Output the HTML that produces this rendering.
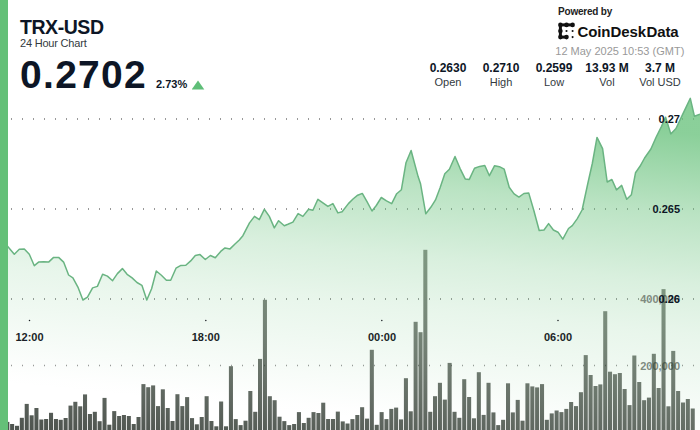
<!DOCTYPE html>
<html><head><meta charset="utf-8">
<style>
html,body{margin:0;padding:0;width:700px;height:430px;overflow:hidden;background:#fff;}
body{position:relative;font-family:"Liberation Sans",sans-serif;color:#0d1626;}
.abs{position:absolute;white-space:nowrap;line-height:1;}
#bar{position:absolute;left:0;top:0;width:7.5px;height:430px;background:#64c078;z-index:5;}
svg{position:absolute;left:0;top:0;}
</style></head><body>
<svg width="700" height="430" viewBox="0 0 700 430">
<defs>
<linearGradient id="fg" gradientUnits="userSpaceOnUse" x1="350" y1="100" x2="314.4" y2="456.4">
<stop offset="0" stop-color="#64c078" stop-opacity="0.75"/>
<stop offset="0.222" stop-color="#64c078" stop-opacity="0.44"/>
<stop offset="0.417" stop-color="#64c078" stop-opacity="0.245"/>
<stop offset="0.556" stop-color="#64c078" stop-opacity="0.15"/>
<stop offset="0.667" stop-color="#64c078" stop-opacity="0.10"/>
<stop offset="0.75" stop-color="#64c078" stop-opacity="0.06"/>
<stop offset="0.861" stop-color="#64c078" stop-opacity="0.005"/>
<stop offset="0.889" stop-color="#64c078" stop-opacity="0"/>
</linearGradient>
<linearGradient id="bg" gradientUnits="userSpaceOnUse" x1="350" y1="100" x2="314.4" y2="456.4">
<stop offset="0" stop-color="rgb(40,75,42)" stop-opacity="0.29"/>
<stop offset="0.43" stop-color="rgb(40,67,41)" stop-opacity="0.52"/>
<stop offset="0.694" stop-color="rgb(40,55,41)" stop-opacity="0.64"/>
<stop offset="0.892" stop-color="rgb(40,50,41)" stop-opacity="0.755"/>
<stop offset="1" stop-color="rgb(40,47,41)" stop-opacity="0.82"/>
</linearGradient>
</defs>
<line x1="0" y1="119" x2="700" y2="119" stroke="#999" stroke-width="2" stroke-dasharray="1 10"/><line x1="0" y1="209" x2="700" y2="209" stroke="#999" stroke-width="2" stroke-dasharray="1 10"/><line x1="0" y1="299" x2="700" y2="299" stroke="#999" stroke-width="2" stroke-dasharray="1 10"/><line x1="0" y1="365.5" x2="700" y2="365.5" stroke="#999" stroke-width="1.3" stroke-dasharray="1 10"/>
<path d="M0,244 L7.1,245.7 L14.3,254.3 L19.3,249.3 L24.3,248.9 L29.3,254.3 L34.3,265.7 L38.6,262.1 L43.6,261.7 L48.6,262.1 L53.6,257.4 L58.6,257.4 L63.6,262.1 L68.6,275 L72.9,277.9 L77.9,287.1 L82.9,300 L87.5,297.1 L92.6,287.9 L97.4,286.4 L102.6,274.3 L107.4,276.1 L112.6,280.7 L117.4,273.6 L122.4,268.6 L127.1,274.3 L132.1,277.9 L137,282.5 L141.9,285.3 L146.8,300 L151.6,288.8 L156.3,271 L161.4,275.3 L166.4,280.2 L170.7,280.2 L176,268.2 L180.9,265.4 L185.8,265.2 L190.7,260.9 L195.3,255.6 L200,254.6 L205.3,259.5 L210.4,255.5 L215.3,257.7 L220.7,251.4 L225,247.9 L230,248.9 L235,244 L239.3,240 L242.9,235.7 L249.5,222.9 L254.5,216.4 L259.3,219.6 L264.3,209.3 L269.3,216.4 L274.3,227.9 L278.6,220.7 L284.3,225.7 L287.9,224.3 L292.9,222.1 L298.1,213.6 L302.9,216.4 L308.6,209.3 L312.9,210.3 L317.9,199.3 L322.9,202.9 L327.9,206.4 L332.9,203.6 L337.9,212.9 L342.1,211.7 L348.4,203.6 L353,199 L357.7,195.2 L362.3,193.4 L367,201.7 L372,211 L376.3,205.5 L381.3,197.5 L386.5,200.8 L391.7,203.6 L396.7,193.7 L401.4,189.7 L406,162.7 L411.1,150.5 L418.1,176.6 L420.6,184.1 L425.8,213.8 L430.8,207.3 L435.5,199.9 L440.1,187.8 L444.8,173.8 L449.4,169.2 L455,156.5 L460,168.3 L465.2,178.9 L469.3,179.4 L474.5,168.3 L479.7,166.4 L484.8,165.5 L489.4,175.7 L494.6,165.7 L499.4,166.7 L504.2,169.2 L509.2,187.2 L514.1,193.9 L518.9,197.1 L523.9,193.5 L528.7,192.9 L533.9,210.7 L539.2,230.5 L544,230 L548.6,223.6 L553.4,230 L558,232.2 L562.8,239.2 L568.5,228.5 L572.3,225.6 L577.3,218.6 L582.1,210 L587.7,184 L592.3,163.5 L597,137.4 L602.6,148.6 L607.2,182 L611.9,179.5 L616.5,189.9 L621.7,185.4 L626.7,199.2 L631.4,194.7 L635.5,172.8 L640,166.3 L644.6,158 L650.9,149 L656.2,137 L661.4,126.6 L665.6,117.2 L670.8,133.9 L676,128.5 L682.3,115.1 L690.3,98.4 L694.4,116.2 L700,114.1 L700,430 L0,430 Z" fill="url(#fg)"/>
<g font-family="Liberation Sans" font-weight="bold" font-size="11" fill="#7f8b80" text-anchor="end">
<text x="680" y="303">400,000</text>
<text x="680" y="369.5">200,000</text>
</g>
<g fill="url(#bg)"><rect x="5.3" y="421.9" width="4.06" height="8.1"/><rect x="10.1" y="424" width="4.06" height="6"/><rect x="15" y="425.8" width="4.06" height="4.2"/><rect x="19.8" y="417.8" width="4.06" height="12.2"/><rect x="24.7" y="403.9" width="4.06" height="26.1"/><rect x="29.6" y="415.3" width="4.06" height="14.7"/><rect x="34.4" y="408" width="4.06" height="22"/><rect x="39.3" y="419.5" width="4.06" height="10.5"/><rect x="44.1" y="419" width="4.06" height="11"/><rect x="49" y="412.8" width="4.06" height="17.2"/><rect x="53.9" y="419" width="4.06" height="11"/><rect x="58.7" y="419.8" width="4.06" height="10.2"/><rect x="63.6" y="418" width="4.06" height="12"/><rect x="68.5" y="405.6" width="4.06" height="24.4"/><rect x="73.3" y="401.8" width="4.06" height="28.2"/><rect x="78.2" y="406.3" width="4.06" height="23.7"/><rect x="83" y="394.4" width="4.06" height="35.6"/><rect x="87.9" y="414" width="4.06" height="16"/><rect x="92.8" y="411.8" width="4.06" height="18.2"/><rect x="97.6" y="421.2" width="4.06" height="8.8"/><rect x="102.5" y="397.9" width="4.06" height="32.1"/><rect x="107.3" y="424.7" width="4.06" height="5.3"/><rect x="112.2" y="411.1" width="4.06" height="18.9"/><rect x="117.1" y="416" width="4.06" height="14"/><rect x="121.9" y="415" width="4.06" height="15"/><rect x="126.8" y="416" width="4.06" height="14"/><rect x="131.7" y="424" width="4.06" height="6"/><rect x="136.5" y="417" width="4.06" height="13"/><rect x="141.4" y="384.1" width="4.06" height="45.9"/><rect x="146.2" y="387.2" width="4.06" height="42.8"/><rect x="151.1" y="385.4" width="4.06" height="44.6"/><rect x="156" y="406.1" width="4.06" height="23.9"/><rect x="160.8" y="389.3" width="4.06" height="40.7"/><rect x="165.7" y="408" width="4.06" height="22"/><rect x="170.5" y="421" width="4.06" height="9"/><rect x="175.4" y="394.2" width="4.06" height="35.8"/><rect x="180.3" y="406.1" width="4.06" height="23.9"/><rect x="185.1" y="397.1" width="4.06" height="32.9"/><rect x="190" y="418.1" width="4.06" height="11.9"/><rect x="194.8" y="424.3" width="4.06" height="5.7"/><rect x="199.7" y="417" width="4.06" height="13"/><rect x="204.6" y="396.2" width="4.06" height="33.8"/><rect x="209.4" y="421" width="4.06" height="9"/><rect x="214.3" y="426.3" width="4.06" height="3.7"/><rect x="219.1" y="401.5" width="4.06" height="28.5"/><rect x="224" y="426.3" width="4.06" height="3.7"/><rect x="228.9" y="366.2" width="4.06" height="63.8"/><rect x="233.7" y="419.1" width="4.06" height="10.9"/><rect x="238.6" y="425.1" width="4.06" height="4.9"/><rect x="243.5" y="420.7" width="4.06" height="9.3"/><rect x="248.3" y="391" width="4.06" height="39"/><rect x="253.2" y="411.8" width="4.06" height="18.2"/><rect x="258" y="358.9" width="4.06" height="71.1"/><rect x="262.9" y="299.8" width="4.06" height="130.2"/><rect x="267.8" y="396.2" width="4.06" height="33.8"/><rect x="272.6" y="400.2" width="4.06" height="29.8"/><rect x="277.5" y="416.7" width="4.06" height="13.3"/><rect x="282.3" y="421.1" width="4.06" height="8.9"/><rect x="287.2" y="425.1" width="4.06" height="4.9"/><rect x="292.1" y="424" width="4.06" height="6"/><rect x="296.9" y="412.1" width="4.06" height="17.9"/><rect x="301.8" y="423" width="4.06" height="7"/><rect x="306.6" y="417.8" width="4.06" height="12.2"/><rect x="311.5" y="412.1" width="4.06" height="17.9"/><rect x="316.4" y="413" width="4.06" height="17"/><rect x="321.2" y="402.7" width="4.06" height="27.3"/><rect x="326.1" y="419" width="4.06" height="11"/><rect x="331" y="419" width="4.06" height="11"/><rect x="335.8" y="411.6" width="4.06" height="18.4"/><rect x="340.7" y="421.4" width="4.06" height="8.6"/><rect x="345.5" y="423.5" width="4.06" height="6.5"/><rect x="350.4" y="419.1" width="4.06" height="10.9"/><rect x="355.3" y="415" width="4.06" height="15"/><rect x="360.1" y="407.2" width="4.06" height="22.8"/><rect x="365" y="418.6" width="4.06" height="11.4"/><rect x="369.8" y="349.8" width="4.06" height="80.2"/><rect x="374.7" y="424.8" width="4.06" height="5.2"/><rect x="379.6" y="412.1" width="4.06" height="17.9"/><rect x="384.4" y="419.1" width="4.06" height="10.9"/><rect x="389.3" y="408.9" width="4.06" height="21.1"/><rect x="394.1" y="407.6" width="4.06" height="22.4"/><rect x="399" y="419.4" width="4.06" height="10.6"/><rect x="403.9" y="378.2" width="4.06" height="51.8"/><rect x="408.7" y="411.3" width="4.06" height="18.7"/><rect x="413.6" y="321.8" width="4.06" height="108.2"/><rect x="418.5" y="332.2" width="4.06" height="97.8"/><rect x="423.3" y="249.8" width="4.06" height="180.2"/><rect x="428.2" y="411.8" width="4.06" height="18.2"/><rect x="433" y="396.2" width="4.06" height="33.8"/><rect x="437.9" y="382.8" width="4.06" height="47.2"/><rect x="442.8" y="399.6" width="4.06" height="30.4"/><rect x="447.6" y="362.9" width="4.06" height="67.1"/><rect x="452.5" y="411.8" width="4.06" height="18.2"/><rect x="457.3" y="417.8" width="4.06" height="12.2"/><rect x="462.2" y="379.2" width="4.06" height="50.8"/><rect x="467.1" y="397" width="4.06" height="33"/><rect x="471.9" y="418.3" width="4.06" height="11.7"/><rect x="476.8" y="372.2" width="4.06" height="57.8"/><rect x="481.6" y="414.9" width="4.06" height="15.1"/><rect x="486.5" y="382.8" width="4.06" height="47.2"/><rect x="491.4" y="412.4" width="4.06" height="17.6"/><rect x="496.2" y="425.1" width="4.06" height="4.9"/><rect x="501.1" y="419.8" width="4.06" height="10.2"/><rect x="506" y="383.3" width="4.06" height="46.7"/><rect x="510.8" y="412.4" width="4.06" height="17.6"/><rect x="515.7" y="399.9" width="4.06" height="30.1"/><rect x="520.5" y="420.7" width="4.06" height="9.3"/><rect x="525.4" y="383.3" width="4.06" height="46.7"/><rect x="530.3" y="386.4" width="4.06" height="43.6"/><rect x="535.1" y="387.4" width="4.06" height="42.6"/><rect x="540" y="384.1" width="4.06" height="45.9"/><rect x="544.8" y="419.8" width="4.06" height="10.2"/><rect x="549.7" y="413.4" width="4.06" height="16.6"/><rect x="554.6" y="410.5" width="4.06" height="19.5"/><rect x="559.4" y="412.1" width="4.06" height="17.9"/><rect x="564.3" y="408.9" width="4.06" height="21.1"/><rect x="569.1" y="402" width="4.06" height="28"/><rect x="574" y="406.1" width="4.06" height="23.9"/><rect x="578.9" y="392.2" width="4.06" height="37.8"/><rect x="583.7" y="355.1" width="4.06" height="74.9"/><rect x="588.6" y="375" width="4.06" height="55"/><rect x="593.5" y="386" width="4.06" height="44"/><rect x="598.3" y="384.4" width="4.06" height="45.6"/><rect x="603.2" y="311.2" width="4.06" height="118.8"/><rect x="608" y="371.7" width="4.06" height="58.3"/><rect x="612.9" y="374.2" width="4.06" height="55.8"/><rect x="617.8" y="373" width="4.06" height="57"/><rect x="622.6" y="389" width="4.06" height="41"/><rect x="627.5" y="405.1" width="4.06" height="24.9"/><rect x="632.3" y="355.5" width="4.06" height="74.5"/><rect x="637.2" y="382" width="4.06" height="48"/><rect x="642.1" y="400.2" width="4.06" height="29.8"/><rect x="646.9" y="397.6" width="4.06" height="32.4"/><rect x="651.8" y="353.8" width="4.06" height="76.2"/><rect x="656.6" y="388" width="4.06" height="42"/><rect x="661.5" y="289.1" width="4.06" height="140.9"/><rect x="666.4" y="406.3" width="4.06" height="23.7"/><rect x="671.2" y="350.9" width="4.06" height="79.1"/><rect x="676.1" y="391" width="4.06" height="39"/><rect x="681" y="402.5" width="4.06" height="27.5"/><rect x="685.8" y="399" width="4.06" height="31"/><rect x="690.7" y="408.5" width="4.06" height="21.5"/></g>
<polyline points="0,244 7.1,245.7 14.3,254.3 19.3,249.3 24.3,248.9 29.3,254.3 34.3,265.7 38.6,262.1 43.6,261.7 48.6,262.1 53.6,257.4 58.6,257.4 63.6,262.1 68.6,275 72.9,277.9 77.9,287.1 82.9,300 87.5,297.1 92.6,287.9 97.4,286.4 102.6,274.3 107.4,276.1 112.6,280.7 117.4,273.6 122.4,268.6 127.1,274.3 132.1,277.9 137,282.5 141.9,285.3 146.8,300 151.6,288.8 156.3,271 161.4,275.3 166.4,280.2 170.7,280.2 176,268.2 180.9,265.4 185.8,265.2 190.7,260.9 195.3,255.6 200,254.6 205.3,259.5 210.4,255.5 215.3,257.7 220.7,251.4 225,247.9 230,248.9 235,244 239.3,240 242.9,235.7 249.5,222.9 254.5,216.4 259.3,219.6 264.3,209.3 269.3,216.4 274.3,227.9 278.6,220.7 284.3,225.7 287.9,224.3 292.9,222.1 298.1,213.6 302.9,216.4 308.6,209.3 312.9,210.3 317.9,199.3 322.9,202.9 327.9,206.4 332.9,203.6 337.9,212.9 342.1,211.7 348.4,203.6 353,199 357.7,195.2 362.3,193.4 367,201.7 372,211 376.3,205.5 381.3,197.5 386.5,200.8 391.7,203.6 396.7,193.7 401.4,189.7 406,162.7 411.1,150.5 418.1,176.6 420.6,184.1 425.8,213.8 430.8,207.3 435.5,199.9 440.1,187.8 444.8,173.8 449.4,169.2 455,156.5 460,168.3 465.2,178.9 469.3,179.4 474.5,168.3 479.7,166.4 484.8,165.5 489.4,175.7 494.6,165.7 499.4,166.7 504.2,169.2 509.2,187.2 514.1,193.9 518.9,197.1 523.9,193.5 528.7,192.9 533.9,210.7 539.2,230.5 544,230 548.6,223.6 553.4,230 558,232.2 562.8,239.2 568.5,228.5 572.3,225.6 577.3,218.6 582.1,210 587.7,184 592.3,163.5 597,137.4 602.6,148.6 607.2,182 611.9,179.5 616.5,189.9 621.7,185.4 626.7,199.2 631.4,194.7 635.5,172.8 640,166.3 644.6,158 650.9,149 656.2,137 661.4,126.6 665.6,117.2 670.8,133.9 676,128.5 682.3,115.1 690.3,98.4 694.4,116.2 700,114.1" fill="none" stroke="#6ab482" stroke-width="1.5" stroke-linejoin="round"/>
<g fill="#1a1f24">
<circle cx="29.5" cy="320.5" r="0.75"/>
<circle cx="205.8" cy="320.5" r="0.75"/>
<circle cx="381.8" cy="320.5" r="0.75"/>
<circle cx="558" cy="320.5" r="0.75"/>
</g>
<g font-family="Liberation Sans" font-weight="bold" font-size="11" fill="#1a1f26" text-anchor="middle">
<text x="29.5" y="341">12:00</text>
<text x="205.8" y="341">18:00</text>
<text x="382" y="341">00:00</text>
<text x="558" y="341">06:00</text>
</g>
<g font-family="Liberation Sans" font-weight="bold" font-size="11" fill="#0d1626" text-anchor="end">
<text x="680" y="122.5">0.27</text>
<text x="680" y="212.5">0.265</text>
<text x="680" y="302.5">0.26</text>
</g>
</svg>
<div id="bar"></div>
<div class="abs" style="left:20px;top:18px;font-size:19.5px;font-weight:bold;letter-spacing:-0.45px;">TRX-USD</div>
<div class="abs" style="left:20px;top:38px;font-size:11px;color:#333a40;letter-spacing:-0.2px;">24 Hour Chart</div>
<div class="abs" style="left:20px;top:55px;font-size:39px;font-weight:bold;letter-spacing:1.3px;">0.2702</div>
<div class="abs" style="left:156px;top:79px;font-size:11px;font-weight:bold;">2.73%</div>
<svg style="left:192px;top:80px" width="13" height="10"><polygon points="6,0.5 12.3,9.5 -0.3,9.5" fill="#5fbe78"/></svg>
<div class="abs" style="left:558px;top:7px;font-size:10px;font-weight:bold;color:#222;letter-spacing:-0.2px;">Powered by</div>
<svg style="left:555px;top:20px" width="22" height="22" viewBox="0 0 22 22">
<g fill="#111">
<circle cx="5.4" cy="4.9" r="2.3"/><circle cx="11.5" cy="4.9" r="2.3"/><circle cx="17.6" cy="4.9" r="2.3"/>
<circle cx="5.4" cy="11" r="2.3"/><circle cx="5.4" cy="17.1" r="2.3"/><circle cx="11.5" cy="17.1" r="2.3"/>
<rect x="5.4" y="3.4" width="12.2" height="3"/><rect x="3.9" y="4.9" width="3" height="12.2"/><rect x="5.4" y="15.6" width="6.1" height="3"/>
<circle cx="11.5" cy="11" r="1.05"/><circle cx="17.6" cy="11" r="1.05"/><circle cx="17.6" cy="17.1" r="1.05"/>
</g></svg>
<div class="abs" style="left:577.5px;top:24px;font-size:15px;font-weight:bold;color:#111;letter-spacing:-0.1px;word-spacing:-3.5px;">CoinDesk Data</div>
<div class="abs" style="left:555.3px;top:45.5px;font-size:11px;color:#999;">12 May 2025 10:53 (GMT)</div>
<div class="abs" style="left:421px;top:62px;width:54px;text-align:center;font-size:12px;font-weight:bold;">0.2630</div>
<div class="abs" style="left:474px;top:62px;width:54px;text-align:center;font-size:12px;font-weight:bold;">0.2710</div>
<div class="abs" style="left:527px;top:62px;width:54px;text-align:center;font-size:12px;font-weight:bold;">0.2599</div>
<div class="abs" style="left:580px;top:62px;width:54px;text-align:center;font-size:12px;font-weight:bold;">13.93 M</div>
<div class="abs" style="left:633px;top:62px;width:54px;text-align:center;font-size:12px;font-weight:bold;">3.7 M</div>
<div class="abs" style="left:421px;top:77px;width:54px;text-align:center;font-size:11px;color:#333a40;">Open</div>
<div class="abs" style="left:474px;top:77px;width:54px;text-align:center;font-size:11px;color:#333a40;">High</div>
<div class="abs" style="left:527px;top:77px;width:54px;text-align:center;font-size:11px;color:#333a40;">Low</div>
<div class="abs" style="left:580px;top:77px;width:54px;text-align:center;font-size:11px;color:#333a40;">Vol</div>
<div class="abs" style="left:633px;top:77px;width:54px;text-align:center;font-size:11px;color:#333a40;">Vol USD</div>
</body></html>
